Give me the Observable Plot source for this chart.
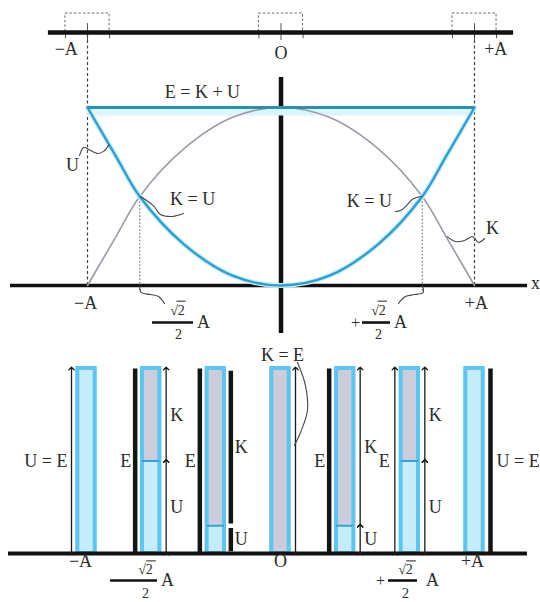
<!DOCTYPE html>
<html><head><meta charset="utf-8">
<script src="https://cdn.jsdelivr.net/npm/d3@7"></script>
<script src="https://cdn.jsdelivr.net/npm/@observablehq/plot@0.6"></script>
<style>
html,body{margin:0;padding:0;background:#fff;}
#chart{width:540px;height:602px;overflow:hidden;background:#fff;}
#chart svg{display:block;}
</style></head><body><div id="chart"></div>
<script>
// ---------------- data (x in units of A, energies in units of E) ----------------
const springBlocks = [-1, 0, 1];
const springLabels = ["−A", "O", "+A"];
const curveX     = [-1, -0.85, -0.73, -0.5, -0.25, 0, 0.25, 0.5, 0.73, 0.85, 1];
const potentialU = [1, 0.72, 0.5, 0.23, 0.055, 0, 0.055, 0.23, 0.5, 0.72, 1];
const kineticK   = [0, 0.28, 0.5, 0.77, 0.945, 1, 0.945, 0.77, 0.5, 0.28, 0];
const equalX = [-0.73, 0.73];
const equalE = 0.5;
const totalE = 1;
const barSlots = ["−A", "−A/√2", "−x₁", "O", "+x₁", "+A/√2", "+A"];
const barU = [1, 0.5, 0.15, 0, 0.15, 0.5, 1];
const barK = [0, 0.5, 0.85, 1, 0.85, 0.5, 0];
const fracNum = "√2", fracDen = "2";

// ---------------- styles ----------------
const FONT = "'Liberation Serif','Times New Roman',serif";
const INK = "#2b2b2b";
const txt = (data, o) => Plot.text(data, {fontFamily: FONT, fontSize: 18, fill: INK, ...o});
const lead = (data) => Plot.line(data, {x: "x", y: "y", z: "id", stroke: "#444", strokeWidth: 1.1, curve: "catmull-rom"});
const pts = curveX.map((x, i) => ({x, U: potentialU[i], K: kineticK[i]}));

// ---------------- top: spring + energy curves ----------------
const springLevel = 1.421, boxTop = 1.528, boxHalf = 0.114;
const topLeaders = [
  ...[[-1.041,0.73],[-1.02,0.775],[-0.99,0.762],[-0.95,0.742],[-0.915,0.755],[-0.89,0.79]].map(([x,y])=>({id:"U",x,y})),
  ...[[-0.726,0.5],[-0.66,0.449],[-0.623,0.399],[-0.561,0.388],[-0.504,0.404]].map(([x,y])=>({id:"KU1",x,y})),
  ...[[0.592,0.416],[0.618,0.421],[0.649,0.449],[0.68,0.485],[0.725,0.5]].map(([x,y])=>({id:"KU2",x,y})),
  ...[[0.86,0.275],[0.902,0.247],[0.948,0.253],[0.99,0.275],[1.021,0.242],[1.052,0.264]].map(([x,y])=>({id:"K",x,y})),
  ...[[-0.73,0],[-0.722,-0.039],[-0.674,-0.051],[-0.633,-0.062],[-0.602,-0.101]].map(([x,y])=>({id:"F1",x,y})),
  ...[[0.73,0],[0.735,-0.039],[0.69,-0.051],[0.643,-0.062],[0.607,-0.101]].map(([x,y])=>({id:"F2",x,y}))
];
const topPlot = Plot.plot({
  width: 540, height: 345, margin: 0,
  x: {domain: [-1, 1], range: [87, 474], axis: null},
  y: {domain: [0, 1], range: [285, 107], axis: null},
  style: {background: "#fff", overflow: "visible"},
  marks: [
    Plot.rect(springBlocks, {x1: d => d - boxHalf, x2: d => d + boxHalf, y1: springLevel, y2: boxTop, fill: "none", stroke: "#6b6b6b", strokeWidth: 1, strokeDasharray: "2.5,2"}),
    Plot.ruleX(springBlocks.flatMap(d => [d - boxHalf, d + boxHalf]), {y1: springLevel - 0.035, y2: springLevel, stroke: "#555", strokeWidth: 1}),
    Plot.ruleX(springBlocks, {y1: springLevel - 0.045, y2: springLevel + 0.05, stroke: "#555", strokeWidth: 1}),
    Plot.ruleX([-1, 1], {y1: 0, y2: springLevel, stroke: "#444", strokeWidth: 1.2, strokeDasharray: "3,2.5"}),
    Plot.ruleY([springLevel], {x1: -1.202, x2: 1.202, stroke: "#111", strokeWidth: 4.5}),
    Plot.ruleX(equalX, {y1: -0.03, y2: equalE, stroke: "#555", strokeWidth: 1, strokeDasharray: "1.5,2"}),
    Plot.ruleY([0], {x1: -1.398, x2: 1.274, stroke: "#111", strokeWidth: 3.5}),
    Plot.ruleX([0], {y1: -0.27, y2: 1.169, stroke: "#111", strokeWidth: 4.5}),
    Plot.ruleY([totalE], {x1: -1, x2: 1, stroke: "#dcf4fc", strokeWidth: 8, dy: 4}),
    Plot.line(pts, {x: "x", y: "K", stroke: "#9d9aa8", strokeWidth: 1.6, curve: "catmull-rom"}),
    Plot.line(pts, {x: "x", y: "U", stroke: "#c9edf9", strokeWidth: 5, curve: "catmull-rom"}),
    Plot.line(pts, {x: "x", y: "U", stroke: "#2a9fd0", strokeWidth: 2.4, curve: "catmull-rom"}),
    Plot.ruleY([totalE], {x1: -1, x2: 1, stroke: "#2a8fb5", strokeWidth: 3.2}),
    lead(topLeaders),
    // labels
    txt(springBlocks, {x: d => d + (d === 0 ? 0 : d * 0.11), y: d => d === 0 ? 1.303 : 1.326, text: (d, i) => springLabels[i]}),
    txt(["E = K + U"], {x: -0.406, y: 1.084, text: d => d}),
    txt(["U"], {x: -1.078, y: 0.674, text: d => d}),
    txt(["K = U"], {x: -0.457, y: 0.483, text: d => d}),
    txt(["K = U"], {x: 0.457, y: 0.472, text: d => d}),
    txt(["K"], {x: 1.093, y: 0.32, text: d => d}),
    txt(["x"], {x: 1.315, y: 0.01, text: d => d}),
    txt([-1, 1], {x: d => d * 1.01, y: -0.101, text: d => d < 0 ? "−A" : "+A"}),
    // fractions ∓ (√2/2) A
    Plot.ruleY([-0.208], {x1: -0.664, x2: -0.452, stroke: "#111", strokeWidth: 2.6}),
    Plot.ruleY([-0.208], {x1: 0.421, x2: 0.566, stroke: "#111", strokeWidth: 2.6}),
    Plot.ruleY([-0.088], {x1: -0.538, x2: -0.49, stroke: "#222", strokeWidth: 1}),
    Plot.ruleY([-0.088], {x1: 0.502, x2: 0.55, stroke: "#222", strokeWidth: 1}),
    txt([-0.535, 0.504], {x: d => d, y: -0.14, text: () => fracNum, fontSize: 14}),
    txt([-0.53, 0.504], {x: d => d, y: -0.275, text: () => fracDen, fontSize: 14}),
    txt([-0.401, 0.618], {x: d => d, y: -0.208, text: () => "A"}),
    txt(["+"], {x: 0.385, y: -0.208, text: d => d, fontSize: 16})
  ]
});

// ---------------- bottom: energy bars ----------------
const bars = barSlots.map((s, i) => ({i, s, U: barU[i], K: barK[i]}));
const half = 0.165;
const split = bars.filter(d => d.U > 0 && d.U < 1);
const thinLeft = [bars[0], bars[5]];
const thickLeft = [bars[1], bars[2], bars[4]];
const thinRightSplit = [bars[1], bars[4], bars[5]];
const thickRightSplit = [bars[2]];
const segs = (arr) => arr.flatMap(d => [{i: d.i, a: 0, b: d.U}, {i: d.i, a: d.U, b: 1}]);
const bottomLeader = [[3.263,1.032],[3.386,0.908],[3.417,0.773],[3.309,0.654],[3.216,0.584]].map(([x,y]) => ({id: "KE", x, y}));
const bottomPlot = Plot.plot({
  width: 540, height: 257, margin: 0,
  x: {domain: [0, 6], range: [86, 474], axis: null},
  y: {domain: [0, 1], range: [208, 23], axis: null},
  style: {background: "#fff", overflow: "visible"},
  marks: [
    Plot.rect(bars, {x1: d => d.i - half, x2: d => d.i + half, y1: 0, y2: "U", fill: "#c6ecfb"}),
    Plot.rect(bars, {x1: d => d.i - half, x2: d => d.i + half, y1: "U", y2: totalE, fill: "#cccdda"}),
    Plot.rect(bars, {x1: d => d.i - half, x2: d => d.i + half, y1: 0, y2: totalE, fill: "none", stroke: "#5cc6f0", strokeWidth: 4, insetLeft: 2, insetRight: 2}),
    Plot.ruleY(split, {x1: d => d.i - half + 0.03, x2: d => d.i + half - 0.03, y: "U", stroke: "#34a3da", strokeWidth: 2}),
    Plot.ruleY([0], {x1: -1.206, x2: 6.819, stroke: "#111", strokeWidth: 4}),
    // E / K / U indicator lines
    Plot.link(thinLeft, {x1: "i", x2: "i", y1: 0, y2: totalE, dx: -15, stroke: "#1a1a1a", strokeWidth: 1.3, markerStart: "arrow", markerEnd: "arrow"}),
    Plot.link(thickLeft, {x1: "i", x2: "i", y1: 0, y2: totalE, dx: -16, stroke: "#151515", strokeWidth: 4.5}),
    Plot.link(segs(thinRightSplit), {x1: "i", x2: "i", y1: "a", y2: "b", dx: 15, stroke: "#1a1a1a", strokeWidth: 1.3, markerStart: "arrow", markerEnd: "arrow"}),
    Plot.link(segs(thickRightSplit), {x1: "i", x2: "i", y1: d => d.a + 0.012, y2: d => d.b - 0.012, dx: 15, stroke: "#151515", strokeWidth: 4.5}),
    Plot.link([bars[3]], {x1: "i", x2: "i", y1: 0, y2: totalE, dx: 15, stroke: "#1a1a1a", strokeWidth: 1.3, markerStart: "arrow", markerEnd: "arrow"}),
    Plot.link([bars[6]], {x1: "i", x2: "i", y1: 0, y2: totalE, dx: 16, stroke: "#151515", strokeWidth: 4.5}),
    lead(bottomLeader),
    // labels
    txt([bars[0]], {x: "i", y: 0.5, dx: -19, textAnchor: "end", text: () => "U = E"}),
    txt([bars[6]], {x: "i", y: 0.5, dx: 22, textAnchor: "start", text: () => "U = E"}),
    txt(split, {x: "i", y: 0.5, dx: -20, textAnchor: "end", text: () => "E"}),
    txt(split, {x: "i", y: d => (d.U + totalE) / 2, dx: 19, textAnchor: "start", text: () => "K"}),
    txt(split, {x: "i", y: d => d.U / 2, dx: 19, textAnchor: "start", text: () => "U"}),
    txt(["K = E"], {x: 3.031, y: 1.07, text: d => d}),
    txt([0, 3, 6], {x: d => d === 0 ? -0.093 : d === 6 ? 5.969 : 3, y: -0.04, text: d => d === 0 ? "−A" : d === 3 ? "O" : "+A"}),
    Plot.ruleY([-0.146], {x1: 0.371, x2: 1.098, stroke: "#111", strokeWidth: 2.6}),
    Plot.ruleY([-0.146], {x1: 4.67, x2: 5.118, stroke: "#111", strokeWidth: 2.6}),
    Plot.ruleY([-0.04], {x1: 0.93, x2: 1.08, stroke: "#222", strokeWidth: 1}),
    Plot.ruleY([-0.04], {x1: 4.95, x2: 5.1, stroke: "#222", strokeWidth: 1}),
    txt([0.912, 4.933], {x: d => d, y: -0.085, text: () => fracNum, fontSize: 14}),
    txt([0.912, 4.933], {x: d => d, y: -0.215, text: () => fracDen, fontSize: 14}),
    txt([1.253, 5.35], {x: d => d, y: -0.146, text: () => "A"}),
    txt(["+"], {x: 4.546, y: -0.146, text: d => d, fontSize: 16})
  ]
});

const chart = document.getElementById("chart");
chart.appendChild(topPlot);
chart.appendChild(bottomPlot);
</script>
</body></html>
